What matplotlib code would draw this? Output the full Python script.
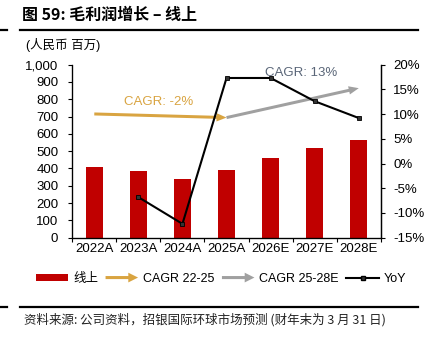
import matplotlib
matplotlib.use("Agg")
import matplotlib.pyplot as plt
from matplotlib.patches import Patch, FancyArrow
from matplotlib.lines import Line2D
from matplotlib.legend_handler import HandlerPatch
from matplotlib.ticker import FixedLocator, NullFormatter

plt.rcParams['font.family'] = ['Liberation Sans', 'Noto Sans CJK SC', 'DejaVu Sans']

# Data
years = ["2022A", "2023A", "2024A", "2025A", "2026E", "2027E", "2028E"]
gross_profit = [410, 385, 337, 391, 461, 517, 566]          # RMB mn
yoy_years = ["2023A", "2024A", "2025A", "2026E", "2027E", "2028E"]
yoy = [-6.8, -12.2, 17.3, 17.3, 12.6, 9.2]                  # %
cagr_hist = ("2022A", 715, "2025A", 694)     # start cat, level, end cat, level
cagr_fcst = ("2025A", 694, "2028E", 864)
cagr_hist_label = "CAGR: -2%"
cagr_fcst_label = "CAGR: 13%"

red = "#C00000"
orange = "#D9A441"
grey = "#A0A0A0"
slate = "#5A6678"
fs = 9.5

fig = plt.figure(figsize=(4.25, 3.42), dpi=100)
ax = fig.add_axes([0.170, 0.305, 0.726, 0.506])

x = list(range(len(years)))
ax.bar(x, gross_profit, width=0.38, color=red, zorder=2)
ax.set_xlim(-0.5, len(years) - 0.5)
ax.set_ylim(0, 1000)
ax.set_yticks(range(0, 1001, 100))
ax.set_yticklabels([f"{v:,}" for v in range(0, 1001, 100)])
ax.set_xticks(x)
ax.set_xticklabels(years)
ax.xaxis.set_minor_locator(FixedLocator([i - 0.5 for i in range(len(years) + 1)]))
ax.xaxis.set_minor_formatter(NullFormatter())
ax.tick_params(axis='x', which='major', length=0, pad=4, labelsize=fs)
ax.tick_params(axis='x', which='minor', length=3, direction='out', width=0.8)
ax.tick_params(axis='y', length=3, direction='out', pad=7, labelsize=fs, width=0.8)
ax.spines['top'].set_visible(False)
for s in ('left', 'bottom', 'right'):
    ax.spines[s].set_linewidth(0.9)


def cat(name):
    return years.index(name)


def cagr_arrow(spec, color):
    x0, y0, x1, y1 = cat(spec[0]), spec[1], cat(spec[2]), spec[3]
    ax.annotate("", xy=(x1, y1), xytext=(x0, y0),
                arrowprops=dict(arrowstyle="simple,head_length=0.9,head_width=0.75,tail_width=0.27",
                                color=color, lw=0, shrinkA=0, shrinkB=0, mutation_scale=8),
                zorder=3)


cagr_arrow(cagr_hist, orange)
cagr_arrow(cagr_fcst, grey)
ax.text(1.47, 784, cagr_hist_label, color=orange, fontsize=fs, ha='center', va='center', zorder=4)
ax.text(4.7, 952, cagr_fcst_label, color=slate, fontsize=fs, ha='center', va='center', zorder=4)

ax2 = ax.twinx()
ax2.set_ylim(-15, 20)
ax2.set_yticks(range(-15, 21, 5))
ax2.set_yticklabels([f"{v}%" for v in range(-15, 21, 5)])
ax2.tick_params(axis='y', length=3, direction='out', pad=6, labelsize=fs, width=0.8)
ax2.spines['top'].set_visible(False)
ax2.spines['right'].set_linewidth(0.9)
ax2.plot([cat(y) for y in yoy_years], yoy, color='black', lw=1.5,
         marker='s', ms=3.5, mfc='#333333', mec='black', mew=0.6, zorder=5)

# Title, unit and source
fig.text(0.052, 0.955, "图 59: 毛利润增长 – 线上", fontsize=11.5, fontweight='bold',
         ha='left', va='center', family=['Noto Sans CJK SC', 'Liberation Sans'])
fig.text(0.062, 0.868, "(人民币 百万)", fontsize=9, ha='left', va='center',
         family=['Liberation Sans', 'Noto Sans CJK SC'])
fig.text(0.057, 0.064, "资料来源: 公司资料，招银国际环球市场预测 (财年末为 3 月 31 日)",
         fontsize=9, ha='left', va='center', color='#222222',
         family=['Noto Sans CJK SC', 'Liberation Sans'])

fig.add_artist(Line2D([20 / 425, 418 / 425], [1 - 30 / 342] * 2, color='black', lw=1.6))
fig.add_artist(Line2D([0, 7 / 425], [1 - 30 / 342] * 2, color='black', lw=1.6))
fig.add_artist(Line2D([20 / 425, 418 / 425], [1 - 306.5 / 342] * 2, color='black', lw=1.6))
fig.add_artist(Line2D([0, 7 / 425], [1 - 306.5 / 342] * 2, color='black', lw=1.6))


def make_arrow(legend, orig_handle, xdescent, ydescent, width, height, fontsize):
    return FancyArrow(-xdescent, height / 2 - ydescent, width, 0, width=2.2,
                      head_width=7.0, head_length=width * 0.3,
                      length_includes_head=True)


handles = [Patch(facecolor=red, lw=0),
           Patch(facecolor=orange, lw=0),
           Patch(facecolor=grey, lw=0),
           Line2D([], [], color='black', lw=1.5, marker='s', ms=3.5, mfc='#333333', mec='black')]
labels = ["线上", "CAGR 22-25", "CAGR 25-28E", "YoY"]
fig.legend(handles, labels, loc='center', bbox_to_anchor=(221 / 425, 1 - 279 / 342), ncol=4,
           frameon=False, fontsize=9, handlelength=2.6, handleheight=0.5,
           handletextpad=0.4, columnspacing=0.6, borderaxespad=0,
           handler_map={handles[1]: HandlerPatch(patch_func=make_arrow),
                        handles[2]: HandlerPatch(patch_func=make_arrow)})

fig.savefig("out.png", dpi=100)
